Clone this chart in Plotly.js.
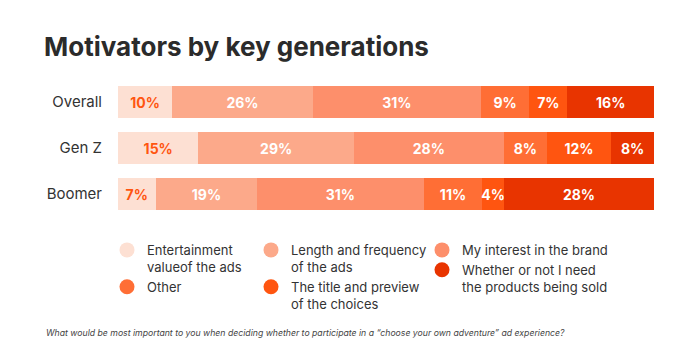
<!DOCTYPE html>
<html>
<head>
<meta charset="utf-8">
<script src="https://cdn.plot.ly/plotly-3.0.1.min.js"></script>
<style>html,body{margin:0;padding:0;background:#fff;}#chart{width:700px;height:362px;}</style>
</head>
<body>
<div id="chart"></div>
<script>
const categories = ["Overall", "Gen Z", "Boomer"];
const seriesNames = [
  "Entertainment<br>valueof the ads",
  "Length and frequency<br>of the ads",
  "My interest in the brand",
  "Other",
  "The title and preview<br>of the choices",
  "Whether or not I need<br>the products being sold"
];
const entertainment = [10, 15, 7];
const lengthFreq = [26, 29, 19];
const interest = [31, 28, 31];
const other = [9, 8, 11];
const titlePreview = [7, 12, 4];
const needProducts = [16, 8, 28];

const seriesValues = [entertainment, lengthFreq, interest, other, titlePreview, needProducts];
const colors = ["#FDE0D3", "#FCA98A", "#FD8F6B", "#FF6E35", "#FF5510", "#E83400"];
const textColors = ["#FF5510", "#ffffff", "#ffffff", "#ffffff", "#ffffff", "#ffffff"];
const legendIds = ["legend", "legend2", "legend3", "legend", "legend2", "legend3"];
const FONT = "Inter, 'Open Sans', sans-serif";

const traces = [];
seriesValues.forEach((vals, i) => {
  traces.push({
    type: "bar",
    orientation: "h",
    y: categories,
    x: vals,
    text: vals.map(v => v + "%"),
    textposition: "inside",
    insidetextanchor: "middle",
    textangle: 0,
    constraintext: "none",
    textfont: {family: FONT, size: 14, color: textColors[i], weight: 700},
    marker: {color: colors[i], line: {width: 0}},
    hoverinfo: "none",
    showlegend: false
  });
});
seriesValues.forEach((vals, i) => {
  traces.push({
    type: "scatter",
    mode: "markers",
    x: [null],
    y: [null],
    name: seriesNames[i],
    marker: {color: colors[i], size: 15, symbol: "circle"},
    legend: legendIds[i],
    showlegend: true,
    hoverinfo: "none"
  });
});

function leg(xpx) {
  return {
    x: (xpx - 118) / 536, xanchor: "left",
    y: -0.13, yanchor: "top",
    orientation: "v",
    traceorder: "normal",
    valign: "top",
    itemsizing: "trace",
    font: {family: FONT, size: 13, color: "#333333"},
    bgcolor: "rgba(0,0,0,0)",
    tracegroupgap: 0
  };
}

const layout = {
  width: 700, height: 362,
  margin: {l: 118, r: 46, t: 79, b: 145},
  paper_bgcolor: "#ffffff",
  plot_bgcolor: "#ffffff",
  barmode: "stack",
  barnorm: "percent",
  bargap: 0.3,
  title: {
    text: "<b>Motivators by key generations</b>",
    font: {family: FONT, size: 26, color: "#2b2b2b"},
    x: 44 / 700, xanchor: "left", xref: "container",
    y: 1 - 47 / 362, yanchor: "middle", yref: "container"
  },
  xaxis: {
    range: [0, 100], showgrid: false, zeroline: false, showticklabels: false,
    showline: false, fixedrange: true
  },
  yaxis: {
    type: "category",
    autorange: "reversed",
    showgrid: false, zeroline: false, showline: false,
    ticks: "outside", ticklen: 12, tickcolor: "rgba(0,0,0,0)",
    tickfont: {family: FONT, size: 15, color: "#333333"},
    fixedrange: true
  },
  legend: leg(107),
  legend2: leg(251),
  legend3: leg(422),
  annotations: [{
    text: "<i>What would be most important to you when deciding whether to participate in a \u201cchoose your own adventure\u201d ad experience?</i>",
    xref: "paper", yref: "paper",
    x: (44 - 118) / 536, xanchor: "left",
    y: (217 - 333) / 138, yanchor: "middle",
    showarrow: false,
    font: {family: FONT, size: 8.7, color: "#444444"}
  }]
};

Plotly.newPlot("chart", traces, layout, {displayModeBar: false, staticPlot: true});
</script>
</body>
</html>
